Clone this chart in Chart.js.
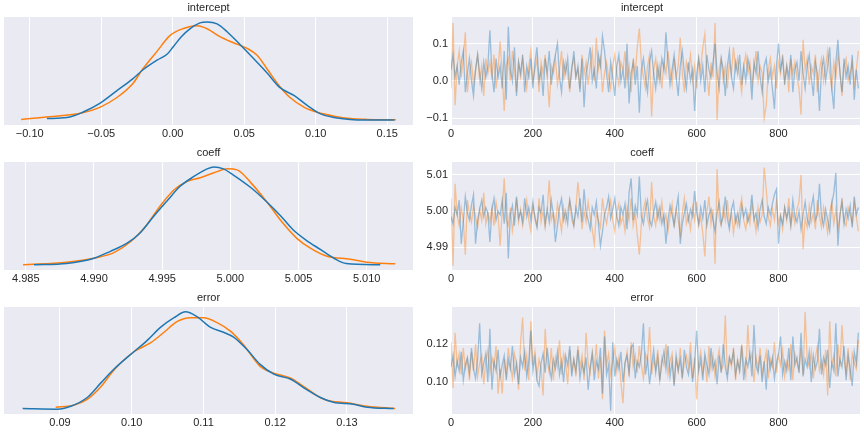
<!DOCTYPE html>
<html>
<head>
<meta charset="utf-8">
<script src="https://cdn.jsdelivr.net/npm/chart.js@4"></script>
<style>
  body { margin: 0; background: #fff; }
  #wrap { position: relative; width: 864px; height: 432px; }
  canvas { position: absolute; }
</style>
</head>
<body>
<div id="wrap"></div>
<script>
// ---- KDE curves (x value, relative density) ----
const kdeInterceptBlueX = [-0.088,-0.074,-0.063,-0.051,-0.039,-0.028,-0.021,-0.011,-0.004,0.0005,0.006,0.012,0.019,0.024,0.031,0.038,0.047,0.057,0.066,0.075,0.085,0.094,0.103,0.113,0.124,0.136,0.155];
const kdeInterceptBlueY = [0.016,0.026,0.08,0.17,0.30,0.42,0.51,0.61,0.67,0.75,0.85,0.93,0.99,1.0,0.98,0.90,0.77,0.62,0.48,0.33,0.25,0.15,0.066,0.026,0.007,0.001,0.0];
const kdeInterceptOrangeX = [-0.106,-0.086,-0.063,-0.051,-0.039,-0.028,-0.021,-0.011,-0.002,0.007,0.017,0.024,0.033,0.042,0.052,0.059,0.066,0.075,0.082,0.092,0.101,0.113,0.124,0.136,0.156];
const kdeInterceptOrangeY = [0.007,0.033,0.075,0.13,0.23,0.37,0.52,0.70,0.86,0.93,0.96,0.93,0.85,0.79,0.73,0.66,0.52,0.34,0.23,0.13,0.08,0.04,0.016,0.007,0.003];

const kdeCoeffBlueX = [4.9856,4.988,4.990,4.9912,4.9924,4.9934,4.9944,4.9954,4.9963,4.9973,4.9983,4.9988,4.9995,5.0002,5.0015,5.0027,5.0037,5.0046,5.0056,5.0066,5.0076,5.0085,5.011];
const kdeCoeffBlueY = [0.003,0.016,0.07,0.14,0.22,0.33,0.50,0.66,0.80,0.90,0.98,1.0,0.98,0.92,0.79,0.64,0.50,0.36,0.25,0.16,0.07,0.016,0.003];
const kdeCoeffOrangeX = [4.9848,4.988,4.990,4.9915,4.9927,4.9937,4.9949,4.9959,4.9968,4.9978,4.9988,4.9998,5.0005,5.0015,5.0027,5.0039,5.0049,5.0059,5.0071,5.0088,5.010,5.0121];
const kdeCoeffOrangeY = [0.003,0.03,0.07,0.13,0.24,0.38,0.61,0.77,0.85,0.89,0.94,0.98,0.97,0.84,0.64,0.42,0.27,0.17,0.09,0.06,0.03,0.013];

const kdeErrorBlueX = [0.0848,0.0896,0.0915,0.0938,0.0957,0.0975,0.1003,0.1022,0.1040,0.1059,0.1075,0.1091,0.1110,0.1128,0.1142,0.1161,0.1179,0.1198,0.1221,0.1244,0.1263,0.1281,0.1309,0.1328,0.1365];
const kdeErrorBlueY = [0.006,0.0,0.03,0.12,0.27,0.41,0.59,0.71,0.84,0.94,1.0,0.95,0.84,0.79,0.74,0.61,0.46,0.36,0.31,0.20,0.12,0.07,0.05,0.02,0.006];
const kdeErrorOrangeX = [0.0894,0.0919,0.0938,0.0957,0.0975,0.1003,0.1026,0.1045,0.1063,0.1082,0.1100,0.1119,0.1138,0.1156,0.1179,0.1198,0.1221,0.1244,0.1268,0.1300,0.1328,0.1367];
const kdeErrorOrangeY = [0.02,0.04,0.10,0.23,0.40,0.59,0.68,0.79,0.90,0.94,0.94,0.89,0.80,0.66,0.44,0.37,0.32,0.21,0.10,0.065,0.03,0.006];

// ---- traces (every 5th draw) ----
const traceStep = 5;
const traceInterceptBlue = [
0.03,0.07,0.01,0.04,-0.01,0.05,0.08,-0.03,0.02,0.06,0.00,-0.04,0.03,0.07,0.02,-0.02,0.05,0.01,0.04,0.135,
0.02,-0.03,0.06,0.01,0.04,-0.02,0.08,-0.05,0.145,0.03,0.00,0.09,-0.04,0.05,0.02,0.07,-0.03,0.04,0.01,0.06,
-0.02,0.05,0.09,0.00,0.03,-0.04,0.06,0.02,0.08,-0.01,0.04,0.07,0.10,0.01,-0.03,0.05,0.02,0.06,-0.02,0.03,
0.08,0.01,0.04,-0.03,0.06,-0.07,0.02,0.05,0.09,0.00,0.03,-0.02,0.07,0.04,0.12,0.08,0.02,-0.03,0.05,0.01,
-0.04,0.04,0.07,0.00,0.03,-0.02,0.10,-0.06,0.02,0.05,-0.01,0.04,-0.085,0.03,0.06,0.01,-0.03,0.05,0.08,0.02,
-0.02,0.04,0.00,0.06,0.03,0.13,0.05,-0.01,0.03,0.07,0.01,-0.04,0.04,0.08,0.02,-0.02,0.05,0.00,0.03,-0.08,
0.02,0.06,0.00,0.04,-0.03,0.07,0.03,0.01,0.05,0.10,0.02,-0.02,0.06,0.03,-0.04,0.04,0.08,0.01,-0.02,0.05,
0.02,0.07,-0.01,0.04,0.00,0.06,0.03,-0.05,0.05,0.02,0.08,0.01,-0.03,0.04,0.06,0.00,0.03,-0.02,-0.075,0.04,
0.10,0.03,0.06,-0.01,0.04,0.01,0.07,-0.03,0.03,0.05,0.00,0.08,0.02,-0.02,0.04,0.07,0.01,-0.04,0.05,0.02,
-0.08,0.03,0.06,0.00,0.04,0.09,-0.02,-0.075,0.05,0.11,0.02,-0.03,0.06,0.01,0.04,-0.01,0.07,-0.05,0.03,-0.02];
const traceInterceptOrange = [
-0.02,0.155,-0.065,0.04,0.08,0.01,0.06,0.13,-0.03,0.02,0.05,-0.01,0.03,0.07,0.00,0.04,-0.04,0.06,0.02,0.05,
0.01,0.07,-0.02,0.03,0.105,0.02,-0.08,0.04,0.06,0.00,0.08,0.03,-0.03,0.05,0.01,0.06,0.02,-0.02,0.04,0.08,
0.00,0.03,0.06,-0.03,0.05,0.02,0.07,0.01,-0.07,0.04,0.02,0.06,-0.01,0.03,0.08,0.00,0.05,0.02,-0.03,0.04,
0.06,0.01,0.03,-0.02,0.07,0.02,0.05,-0.01,0.04,0.08,0.00,0.115,0.03,0.06,-0.03,0.02,0.05,0.01,-0.02,0.04,
0.07,0.02,-0.01,0.05,0.03,0.08,0.00,0.04,-0.03,0.06,0.02,0.09,0.14,0.05,0.01,-0.02,0.04,0.07,-0.095,0.03,
0.06,0.00,0.04,-0.02,0.05,0.02,0.08,0.03,-0.01,0.06,0.01,0.04,0.115,0.02,-0.03,0.05,0.03,0.07,0.00,0.04,
-0.02,0.06,0.03,0.09,0.125,0.02,-0.04,0.05,0.01,0.155,-0.105,0.03,0.06,0.00,0.04,-0.02,0.05,0.02,0.09,0.03,
0.06,0.01,-0.03,0.04,0.07,0.02,0.05,-0.01,0.03,0.08,0.00,0.04,0.02,-0.10,-0.065,0.03,0.06,0.01,0.04,-0.02,
0.05,0.02,0.07,0.00,0.04,-0.03,0.06,0.02,0.05,0.01,-0.02,-0.09,0.11,0.03,0.06,-0.01,0.04,0.02,0.07,-0.03,
0.03,0.06,0.00,0.04,0.08,0.02,-0.02,0.05,0.01,0.07,0.03,-0.04,0.04,0.06,0.00,0.02,0.05,-0.01,0.03,0.08];

const traceCoeffBlue = [
4.9985,4.9965,5.0010,4.9990,5.0030,4.9910,4.9970,5.0040,4.9995,4.9975,5.0015,5.0045,4.9910,4.9975,5.0005,5.0030,4.9985,5.0010,4.9995,4.9915,
5.0005,5.0035,4.9975,5.0000,4.9990,5.0030,4.9965,5.0050,4.9870,4.9990,5.0015,4.9960,5.0040,4.9980,5.0000,4.9970,5.0035,4.9985,5.0010,4.9975,
5.0025,4.9980,4.9955,5.0010,4.9995,5.0045,4.9965,5.0005,4.9970,5.0030,4.9990,4.9915,4.9960,5.0010,5.0035,4.9975,5.0000,4.9965,5.0030,4.9995,
4.9960,5.0010,4.9985,5.0035,4.9970,5.0060,4.9995,4.9975,4.9950,5.0010,4.9990,5.0025,4.9965,4.9905,4.9945,4.9990,5.0010,5.0040,4.9980,5.0005,
5.0035,4.9985,4.9960,5.0010,4.9990,5.0020,4.9950,5.0050,5.0090,4.9975,5.0015,4.9990,5.0095,4.9985,4.9965,5.0005,5.0030,4.9975,4.9960,4.9995,
5.0025,4.9980,5.0010,4.9965,4.9990,4.9910,4.9975,5.0015,4.9990,4.9960,5.0005,5.0040,4.9910,4.9965,4.9995,5.0020,4.9975,5.0005,4.9985,5.0055,
4.9995,4.9965,5.0010,4.9980,5.0030,4.9960,4.9990,5.0005,4.9975,4.9945,4.9995,5.0025,4.9965,4.9985,5.0040,4.9980,4.9950,5.0005,5.0025,4.9970,
4.9995,4.9960,5.0015,4.9985,5.0005,4.9970,4.9990,5.0045,4.9975,4.9995,4.9955,5.0005,5.0030,4.9985,4.9965,5.0010,4.9990,5.0020,5.0045,5.0060,
4.9910,4.9985,4.9965,5.0010,4.9980,5.0005,4.9960,5.0030,4.9985,4.9970,5.0000,4.9950,4.9990,5.0025,4.9980,4.9960,5.0010,5.0040,4.9975,4.9990,
5.0075,4.9985,4.9960,5.0005,4.9975,4.9945,5.0020,5.0050,5.0105,4.9905,4.9990,5.0025,4.9965,5.0005,4.9980,5.0015,4.9955,5.0040,4.9990,5.0010];
const traceCoeffOrange = [
5.0035,4.9850,5.0075,4.9990,4.9960,5.0010,4.9975,4.9880,5.0030,4.9995,4.9970,5.0015,4.9985,4.9955,5.0005,4.9975,5.0050,4.9965,4.9995,4.9970,
5.0010,4.9960,5.0025,4.9990,4.9905,5.0000,5.0090,4.9975,4.9960,5.0010,4.9945,4.9985,5.0035,4.9970,5.0005,4.9960,4.9995,5.0030,4.9975,4.9945,
5.0015,4.9985,4.9960,5.0035,4.9970,5.0000,4.9955,5.0005,5.0085,4.9975,4.9995,4.9960,5.0020,4.9985,4.9945,5.0010,4.9970,5.0000,5.0030,4.9975,
4.9960,5.0005,5.0080,5.0020,4.9950,5.0000,4.9970,5.0025,4.9985,4.9950,4.9910,4.9995,4.9975,4.9955,5.0035,4.9990,4.9965,5.0005,5.0030,4.9975,
4.9945,4.9995,5.0020,4.9965,4.9985,4.9945,5.0010,4.9975,5.0035,4.9960,4.9995,4.9935,4.9880,4.9965,5.0005,5.0030,4.9980,4.9955,5.0080,4.9985,
4.9960,5.0010,4.9975,5.0025,4.9965,4.9990,4.9945,4.9985,5.0020,4.9955,5.0005,4.9975,4.9935,4.9995,5.0035,4.9965,4.9985,4.9950,5.0010,4.9975,
5.0025,4.9960,4.9985,4.9940,4.9875,4.9995,5.0040,4.9965,5.0005,4.9855,5.0115,4.9980,4.9960,5.0010,4.9975,5.0030,4.9965,4.9995,4.9940,4.9985,
4.9960,5.0005,5.0035,4.9975,4.9950,4.9995,4.9965,5.0020,4.9985,4.9945,5.0010,4.9970,4.9990,5.0120,5.0060,4.9985,4.9960,5.0005,4.9975,5.0025,
4.9965,4.9990,4.9950,5.0010,4.9975,5.0035,4.9960,4.9995,4.9965,5.0005,5.0025,5.0100,4.9895,4.9980,4.9955,5.0015,4.9970,4.9995,4.9950,5.0030,
4.9985,4.9955,5.0010,4.9975,4.9940,4.9995,5.0025,4.9965,5.0005,4.9950,4.9985,5.0035,4.9970,4.9960,5.0010,4.9990,4.9965,5.0025,4.9985,4.9945];

const traceErrorBlue = [
0.108,0.114,0.103,0.111,0.106,0.116,0.101,0.109,0.113,0.105,0.118,0.107,0.102,0.112,0.131,0.104,0.110,0.115,0.100,0.128,
0.096,0.111,0.106,0.117,0.103,0.109,0.114,0.101,0.112,0.107,0.119,0.104,0.110,0.099,0.113,0.108,0.116,0.103,0.111,0.127,
0.106,0.113,0.101,0.098,0.110,0.115,0.105,0.118,0.108,0.102,0.112,0.107,0.116,0.104,0.111,0.100,0.114,0.109,0.119,0.103,
0.112,0.106,0.117,0.102,0.110,0.105,0.113,0.096,0.108,0.115,0.101,0.111,0.107,0.118,0.094,0.124,0.104,0.109,0.085,0.121,
0.103,0.112,0.107,0.116,0.100,0.110,0.114,0.105,0.118,0.120,0.102,0.111,0.108,0.115,0.131,0.104,0.112,0.099,0.109,0.117,
0.105,0.113,0.101,0.110,0.116,0.107,0.119,0.103,0.111,0.098,0.114,0.106,0.112,0.102,0.117,0.108,0.104,0.113,0.100,0.110,
0.127,0.106,0.112,0.101,0.115,0.109,0.104,0.118,0.107,0.111,0.099,0.114,0.105,0.120,0.108,0.102,0.113,0.110,0.116,0.104,
0.111,0.106,0.119,0.101,0.112,0.108,0.115,0.103,0.130,0.109,0.105,0.114,0.100,0.111,0.096,0.117,0.107,0.113,0.102,0.110,
0.115,0.124,0.104,0.111,0.106,0.118,0.101,0.124,0.109,0.113,0.105,0.126,0.103,0.112,0.108,0.116,0.100,0.114,0.107,0.111,
0.128,0.104,0.113,0.109,0.117,0.097,0.110,0.106,0.131,0.103,0.112,0.108,0.119,0.101,0.114,0.107,0.098,0.116,0.110,0.126];
const traceErrorOrange = [
0.121,0.097,0.126,0.109,0.115,0.104,0.118,0.107,0.112,0.101,0.116,0.106,0.120,0.103,0.110,0.114,0.099,0.111,0.117,0.105,
0.113,0.108,0.119,0.094,0.107,0.094,0.112,0.104,0.118,0.109,0.102,0.115,0.110,0.096,0.121,0.134,0.106,0.114,0.101,0.132,
0.109,0.116,0.103,0.112,0.107,0.093,0.128,0.111,0.105,0.118,0.101,0.113,0.108,0.122,0.104,0.115,0.110,0.099,0.117,0.106,
0.112,0.103,0.119,0.108,0.114,0.101,0.126,0.110,0.105,0.116,0.107,0.120,0.102,0.113,0.091,0.127,0.109,0.115,0.104,0.111,
0.118,0.106,0.113,0.100,0.089,0.110,0.116,0.103,0.121,0.108,0.114,0.105,0.119,0.109,0.102,0.115,0.111,0.129,0.104,0.112,
0.107,0.117,0.101,0.113,0.109,0.120,0.104,0.111,0.115,0.099,0.112,0.106,0.118,0.103,0.110,0.114,0.108,0.121,0.102,0.113,
0.091,0.110,0.116,0.105,0.112,0.100,0.119,0.107,0.114,0.103,0.111,0.117,0.106,0.109,0.135,0.104,0.113,0.108,0.118,0.101,
0.112,0.106,0.120,0.109,0.103,0.130,0.111,0.115,0.100,0.113,0.107,0.118,0.104,0.110,0.116,0.102,0.112,0.108,0.121,0.105,
0.114,0.109,0.117,0.103,0.111,0.107,0.120,0.101,0.115,0.110,0.106,0.118,0.104,0.137,0.112,0.108,0.116,0.102,0.113,0.119,
0.106,0.111,0.104,0.117,0.093,0.132,0.109,0.114,0.103,0.120,0.108,0.130,0.112,0.105,0.118,0.101,0.115,0.110,0.107,0.122];

// ---- ticks ----
const interceptKdeTicks = [-0.10, -0.05, 0.00, 0.05, 0.10, 0.15];
const interceptKdeLabels = ['\u22120.10', '\u22120.05', '0.00', '0.05', '0.10', '0.15'];
const coeffKdeTicks = [4.985, 4.990, 4.995, 5.000, 5.005, 5.010];
const coeffKdeLabels = ['4.985', '4.990', '4.995', '5.000', '5.005', '5.010'];
const errorKdeTicks = [0.09, 0.10, 0.11, 0.12, 0.13];
const errorKdeLabels = ['0.09', '0.10', '0.11', '0.12', '0.13'];
const traceXTicks = [0, 200, 400, 600, 800];
const traceXLabels = ['0', '200', '400', '600', '800'];
const interceptTraceTicks = [-0.1, 0.0, 0.1];
const interceptTraceLabels = ['\u22120.1', '0.0', '0.1'];
const coeffTraceTicks = [4.99, 5.00, 5.01];
const coeffTraceLabels = ['4.99', '5.00', '5.01'];
const errorTraceTicks = [0.10, 0.12];
const errorTraceLabels = ['0.10', '0.12'];

const BLUE = '#1f77b4', ORANGE = '#ff7f0e';
const BLUE_A = 'rgba(31,119,180,0.4)', ORANGE_A = 'rgba(255,127,14,0.4)';

Chart.defaults.font.family = '"Liberation Sans", Arial, sans-serif';
Chart.defaults.font.size = 11;
Chart.defaults.color = '#262626';

const bgPlugin = {
  id: 'bg',
  beforeDraw(chart) {
    const a = chart.chartArea, c = chart.ctx;
    c.save();
    c.fillStyle = '#eaeaf2';
    c.fillRect(a.left, a.top, a.right - a.left, a.bottom - a.top);
    c.restore();
  }
};

function pts(xs, ys) { return xs.map((x, i) => ({ x: x, y: ys[i] })); }
function tracePts(ys) { return ys.map((y, i) => ({ x: i * traceStep, y: y })); }

function fixedTicks(values, labels) {
  return {
    afterBuildTicks: s => { s.ticks = values.map(v => ({ value: v })); },
    ticks: { callback: (v, i) => labels[i], autoSkip: false, maxRotation: 0 }
  };
}

function makeCanvas(left, top, w, h) {
  const c = document.createElement('canvas');
  c.width = w; c.height = h;
  c.style.left = left + 'px'; c.style.top = top + 'px';
  c.style.width = w + 'px'; c.style.height = h + 'px';
  document.getElementById('wrap').appendChild(c);
  return c;
}

const titleOpts = t => ({ display: true, text: t, font: { size: 11, weight: 'normal' }, color: '#262626', padding: { top: 1, bottom: 2.8 } });

function kdeChart(top, h, title, blue, orange, xmin, xmax, tv, tl, xh) {
  const xt = fixedTicks(tv, tl);
  new Chart(makeCanvas(0, top, 424, h), {
    type: 'line',
    data: { datasets: [
      { data: blue, borderColor: BLUE, borderWidth: 1.5, pointRadius: 0, cubicInterpolationMode: 'monotone' },
      { data: orange, borderColor: ORANGE, borderWidth: 1.5, pointRadius: 0, cubicInterpolationMode: 'monotone' }
    ]},
    options: {
      responsive: false, animation: false, devicePixelRatio: 1,
      layout: { padding: { left: 4, right: 11, top: 0, bottom: 0 } },
      plugins: { legend: { display: false }, tooltip: { enabled: false }, title: titleOpts(title) },
      scales: {
        x: { type: 'linear', min: xmin, max: xmax,
             afterBuildTicks: xt.afterBuildTicks,
             afterFit: s => { s.height = xh; },
             ticks: Object.assign({ padding: 2 }, xt.ticks),
             grid: { color: '#ffffff', lineWidth: 1, drawTicks: false }, border: { display: false } },
        y: { display: false, min: -0.05, max: 1.05 }
      }
    },
    plugins: [bgPlugin]
  });
}

function traceChart(top, h, title, blue, orange, ymin, ymax, tv, tl, xh) {
  const xt = fixedTicks(traceXTicks, traceXLabels);
  const yt = fixedTicks(tv, tl);
  new Chart(makeCanvas(424, top, 440, h), {
    type: 'line',
    data: { datasets: [
      { data: tracePts(blue), borderColor: BLUE_A, borderWidth: 1.3, pointRadius: 0, tension: 0 },
      { data: tracePts(orange), borderColor: ORANGE_A, borderWidth: 1.3, pointRadius: 0, tension: 0 }
    ]},
    options: {
      responsive: false, animation: false, devicePixelRatio: 1,
      layout: { padding: { left: 0, right: 4, top: 0, bottom: 0 } },
      plugins: { legend: { display: false }, tooltip: { enabled: false }, title: titleOpts(title) },
      scales: {
        x: { type: 'linear', min: 0, max: 999,
             afterBuildTicks: xt.afterBuildTicks,
             afterFit: s => { s.height = xh; },
             ticks: Object.assign({ padding: 2 }, xt.ticks),
             grid: { color: '#ffffff', lineWidth: 1, drawTicks: false }, border: { display: false } },
        y: { type: 'linear', min: ymin, max: ymax,
             afterBuildTicks: yt.afterBuildTicks,
             afterFit: s => { s.width = 27; },
             ticks: Object.assign({ padding: 3 }, yt.ticks),
             grid: { color: '#ffffff', lineWidth: 1, drawTicks: false }, border: { display: false } }
      }
    },
    plugins: [bgPlugin]
  });
}

kdeChart(0, 145, 'intercept', pts(kdeInterceptBlueX, kdeInterceptBlueY), pts(kdeInterceptOrangeX, kdeInterceptOrangeY), -0.118, 0.168, interceptKdeTicks, interceptKdeLabels, 20);
kdeChart(145, 145, 'coeff', pts(kdeCoeffBlueX, kdeCoeffBlueY), pts(kdeCoeffOrangeX, kdeCoeffOrangeY), 4.9834, 5.0134, coeffKdeTicks, coeffKdeLabels, 20);
kdeChart(290, 142, 'error', pts(kdeErrorBlueX, kdeErrorBlueY), pts(kdeErrorOrangeX, kdeErrorOrangeY), 0.0822, 0.1392, errorKdeTicks, errorKdeLabels, 18);

traceChart(0, 145, 'intercept', traceInterceptBlue, traceInterceptOrange, -0.1177, 0.1708, interceptTraceTicks, interceptTraceLabels, 20);
traceChart(145, 145, 'coeff', traceCoeffBlue, traceCoeffOrange, 4.9838, 5.0135, coeffTraceTicks, coeffTraceLabels, 20);
traceChart(290, 142, 'error', traceErrorBlue, traceErrorOrange, 0.0833, 0.1395, errorTraceTicks, errorTraceLabels, 18);
</script>
</body>
</html>
